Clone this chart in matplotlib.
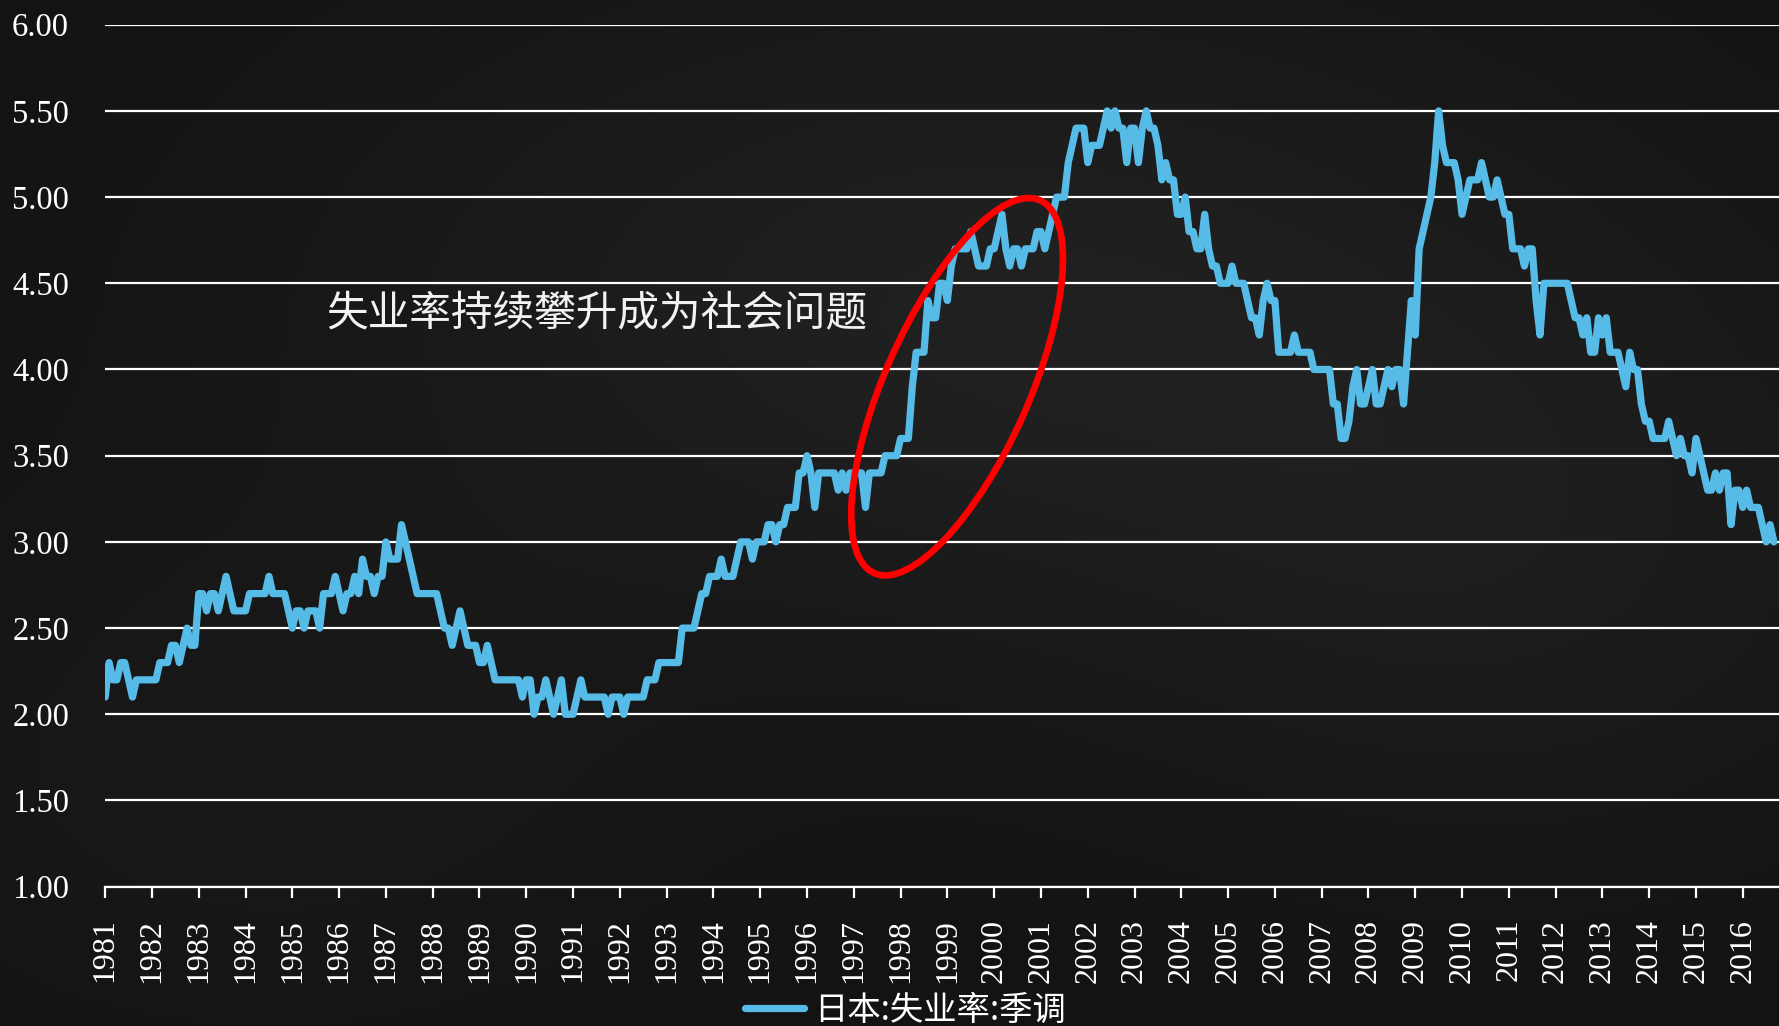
import matplotlib
matplotlib.use('Agg')
import matplotlib.pyplot as plt
import numpy as np
from matplotlib.patches import Ellipse
from matplotlib.transforms import IdentityTransform
from matplotlib.font_manager import FontProperties

# ---------------- data (monthly, Jan 1981 - Sep 2016) ----------------
years = list(range(1981, 2017))
y1981 = [2.1, 2.3, 2.2, 2.2, 2.3, 2.3, 2.2, 2.1, 2.2, 2.2, 2.2, 2.2]
y1982 = [2.2, 2.2, 2.3, 2.3, 2.3, 2.4, 2.4, 2.3, 2.4, 2.5, 2.4, 2.4]
y1983 = [2.7, 2.7, 2.6, 2.7, 2.7, 2.6, 2.7, 2.8, 2.7, 2.6, 2.6, 2.6]
y1984 = [2.6, 2.7, 2.7, 2.7, 2.7, 2.7, 2.8, 2.7, 2.7, 2.7, 2.7, 2.6]
y1985 = [2.5, 2.6, 2.6, 2.5, 2.6, 2.6, 2.6, 2.5, 2.7, 2.7, 2.7, 2.8]
y1986 = [2.7, 2.6, 2.7, 2.7, 2.8, 2.7, 2.9, 2.8, 2.8, 2.7, 2.8, 2.8]
y1987 = [3.0, 2.9, 2.9, 2.9, 3.1, 3.0, 2.9, 2.8, 2.7, 2.7, 2.7, 2.7]
y1988 = [2.7, 2.7, 2.6, 2.5, 2.5, 2.4, 2.5, 2.6, 2.5, 2.4, 2.4, 2.4]
y1989 = [2.3, 2.3, 2.4, 2.3, 2.2, 2.2, 2.2, 2.2, 2.2, 2.2, 2.2, 2.1]
y1990 = [2.2, 2.2, 2.0, 2.1, 2.1, 2.2, 2.1, 2.0, 2.1, 2.2, 2.0, 2.0]
y1991 = [2.0, 2.1, 2.2, 2.1, 2.1, 2.1, 2.1, 2.1, 2.1, 2.0, 2.1, 2.1]
y1992 = [2.1, 2.0, 2.1, 2.1, 2.1, 2.1, 2.1, 2.2, 2.2, 2.2, 2.3, 2.3]
y1993 = [2.3, 2.3, 2.3, 2.3, 2.5, 2.5, 2.5, 2.5, 2.6, 2.7, 2.7, 2.8]
y1994 = [2.8, 2.8, 2.9, 2.8, 2.8, 2.8, 2.9, 3.0, 3.0, 3.0, 2.9, 3.0]
y1995 = [3.0, 3.0, 3.1, 3.1, 3.0, 3.1, 3.1, 3.2, 3.2, 3.2, 3.4, 3.4]
y1996 = [3.5, 3.4, 3.2, 3.4, 3.4, 3.4, 3.4, 3.4, 3.3, 3.4, 3.3, 3.4]
y1997 = [3.4, 3.4, 3.4, 3.2, 3.4, 3.4, 3.4, 3.4, 3.5, 3.5, 3.5, 3.5]
y1998 = [3.6, 3.6, 3.6, 3.9, 4.1, 4.1, 4.1, 4.4, 4.3, 4.3, 4.5, 4.5]
y1999 = [4.4, 4.6, 4.7, 4.7, 4.7, 4.7, 4.8, 4.7, 4.6, 4.6, 4.6, 4.7]
y2000 = [4.7, 4.8, 4.9, 4.7, 4.6, 4.7, 4.7, 4.6, 4.7, 4.7, 4.7, 4.8]
y2001 = [4.8, 4.7, 4.8, 4.9, 5.0, 5.0, 5.0, 5.2, 5.3, 5.4, 5.4, 5.4]
y2002 = [5.2, 5.3, 5.3, 5.3, 5.4, 5.5, 5.4, 5.5, 5.4, 5.4, 5.2, 5.4]
y2003 = [5.4, 5.2, 5.4, 5.5, 5.4, 5.4, 5.3, 5.1, 5.2, 5.1, 5.1, 4.9]
y2004 = [4.9, 5.0, 4.8, 4.8, 4.7, 4.7, 4.9, 4.7, 4.6, 4.6, 4.5, 4.5]
y2005 = [4.5, 4.6, 4.5, 4.5, 4.5, 4.4, 4.3, 4.3, 4.2, 4.4, 4.5, 4.4]
y2006 = [4.4, 4.1, 4.1, 4.1, 4.1, 4.2, 4.1, 4.1, 4.1, 4.1, 4.0, 4.0]
y2007 = [4.0, 4.0, 4.0, 3.8, 3.8, 3.6, 3.6, 3.7, 3.9, 4.0, 3.8, 3.8]
y2008 = [3.9, 4.0, 3.8, 3.8, 3.9, 4.0, 3.9, 4.0, 4.0, 3.8, 4.1, 4.4]
y2009 = [4.2, 4.7, 4.8, 4.9, 5.0, 5.2, 5.5, 5.3, 5.2, 5.2, 5.2, 5.1]
y2010 = [4.9, 5.0, 5.1, 5.1, 5.1, 5.2, 5.1, 5.0, 5.0, 5.1, 5.0, 4.9]
y2011 = [4.9, 4.7, 4.7, 4.7, 4.6, 4.7, 4.7, 4.4, 4.2, 4.5, 4.5, 4.5]
y2012 = [4.5, 4.5, 4.5, 4.5, 4.4, 4.3, 4.3, 4.2, 4.3, 4.1, 4.1, 4.3]
y2013 = [4.2, 4.3, 4.1, 4.1, 4.1, 4.0, 3.9, 4.1, 4.0, 4.0, 3.8, 3.7]
y2014 = [3.7, 3.6, 3.6, 3.6, 3.6, 3.7, 3.6, 3.5, 3.6, 3.5, 3.5, 3.4]
y2015 = [3.6, 3.5, 3.4, 3.3, 3.3, 3.4, 3.3, 3.4, 3.4, 3.1, 3.3, 3.3]
y2016 = [3.2, 3.3, 3.2, 3.2, 3.2, 3.1, 3.0, 3.1, 3.0]

series_name = '日本:失业率:季调'
annotation = '失业率持续攀升成为社会问题'
y_ticks = [1.0, 1.5, 2.0, 2.5, 3.0, 3.5, 4.0, 4.5, 5.0, 5.5, 6.0]
x_labels = [str(y) for y in years]

values = (y1981 + y1982 + y1983 + y1984 + y1985 + y1986 + y1987 + y1988 + y1989 + y1990 +
          y1991 + y1992 + y1993 + y1994 + y1995 + y1996 + y1997 + y1998 + y1999 + y2000 +
          y2001 + y2002 + y2003 + y2004 + y2005 + y2006 + y2007 + y2008 + y2009 + y2010 +
          y2011 + y2012 + y2013 + y2014 + y2015 + y2016)
months = np.arange(len(values))

# ---------------- figure ----------------
W, H = 1779, 1026
fig = plt.figure(figsize=(W / 100 + 0.0001, H / 100 + 0.0001), dpi=100)
fig.patch.set_facecolor('#171717')

# chalkboard-like smooth background
bg = fig.add_axes([0, 0, 1, 1], zorder=0)
bg.axis('off')
yy, xx = np.mgrid[0:1:300j, 0:1:500j]
tex = (0.075
       + 0.050 * np.exp(-((xx - 0.55) ** 2 / 0.12 + (yy - 0.70) ** 2 / 0.10))
       + 0.030 * np.exp(-((xx - 0.85) ** 2 / 0.05 + (yy - 0.45) ** 2 / 0.08))
       + 0.020 * np.exp(-((xx - 0.15) ** 2 / 0.05 + (yy - 0.25) ** 2 / 0.06)))
bg.imshow(tex, cmap='gray', vmin=0, vmax=1, aspect='auto', extent=[0, 1, 0, 1],
          origin='lower', interpolation='bilinear')
bg.set_xlim(0, 1)
bg.set_ylim(0, 1)

left, right = 105.2, 1779
top, bottom = 24.7, 886.7
ax = fig.add_axes([left / W, 1 - bottom / H, (right - left) / W, (bottom - top) / H], zorder=1)
ax.patch.set_alpha(0)

line_color = '#56BBE6'
ln, = ax.plot(months, values, color=line_color, lw=5.2, solid_joinstyle='round',
              solid_capstyle='round', label=series_name, zorder=3)

ax.set_xlim(0, 429.3)
ax.set_ylim(1, 6)

serif = 'Liberation Serif'
ax.set_yticks(y_ticks)
ax.set_yticklabels([f'{v:.2f}' for v in y_ticks], fontfamily=serif, fontsize=23.5, color='white')
ax.set_xticks(np.arange(0, 12 * len(years), 12))
ax.set_xticklabels(x_labels, rotation=90, fontfamily=serif, fontsize=23, color='white')

ax.grid(axis='y', color='white', lw=1.6)
ax.grid(axis='x', visible=False)
for s in ['top', 'right', 'left']:
    ax.spines[s].set_visible(False)
ax.spines['bottom'].set_color('white')
ax.spines['bottom'].set_linewidth(1.6)
ax.tick_params(axis='y', length=0, pad=26)
ax.tick_params(axis='x', length=8, width=1.6, color='white', pad=15, direction='out')

cjk = ['Noto Sans CJK SC', 'DejaVu Sans']
ax.text(56.6, 4.32, annotation, fontsize=30, color='#f2f2f2', family=cjk,
        ha='left', va='center', zorder=4)

# red ellipse highlighting 1998-2001 rise
cx, cy = ax.transData.transform((218.5, 3.90))
ell = Ellipse((cx, cy), width=408, height=144, angle=66, fill=False,
              edgecolor='#ff0000', lw=4.8, transform=IdentityTransform(), zorder=5)
ax.add_patch(ell)

fig.legend(handles=[ln], labels=[series_name], loc='center', bbox_to_anchor=(0.509, 0.0156),
           frameon=False, prop=FontProperties(family=cjk, size=24), labelcolor='white',
           handlelength=1.75, handletextpad=0.3)

fig.savefig('out.png', dpi=100, facecolor=fig.get_facecolor())
